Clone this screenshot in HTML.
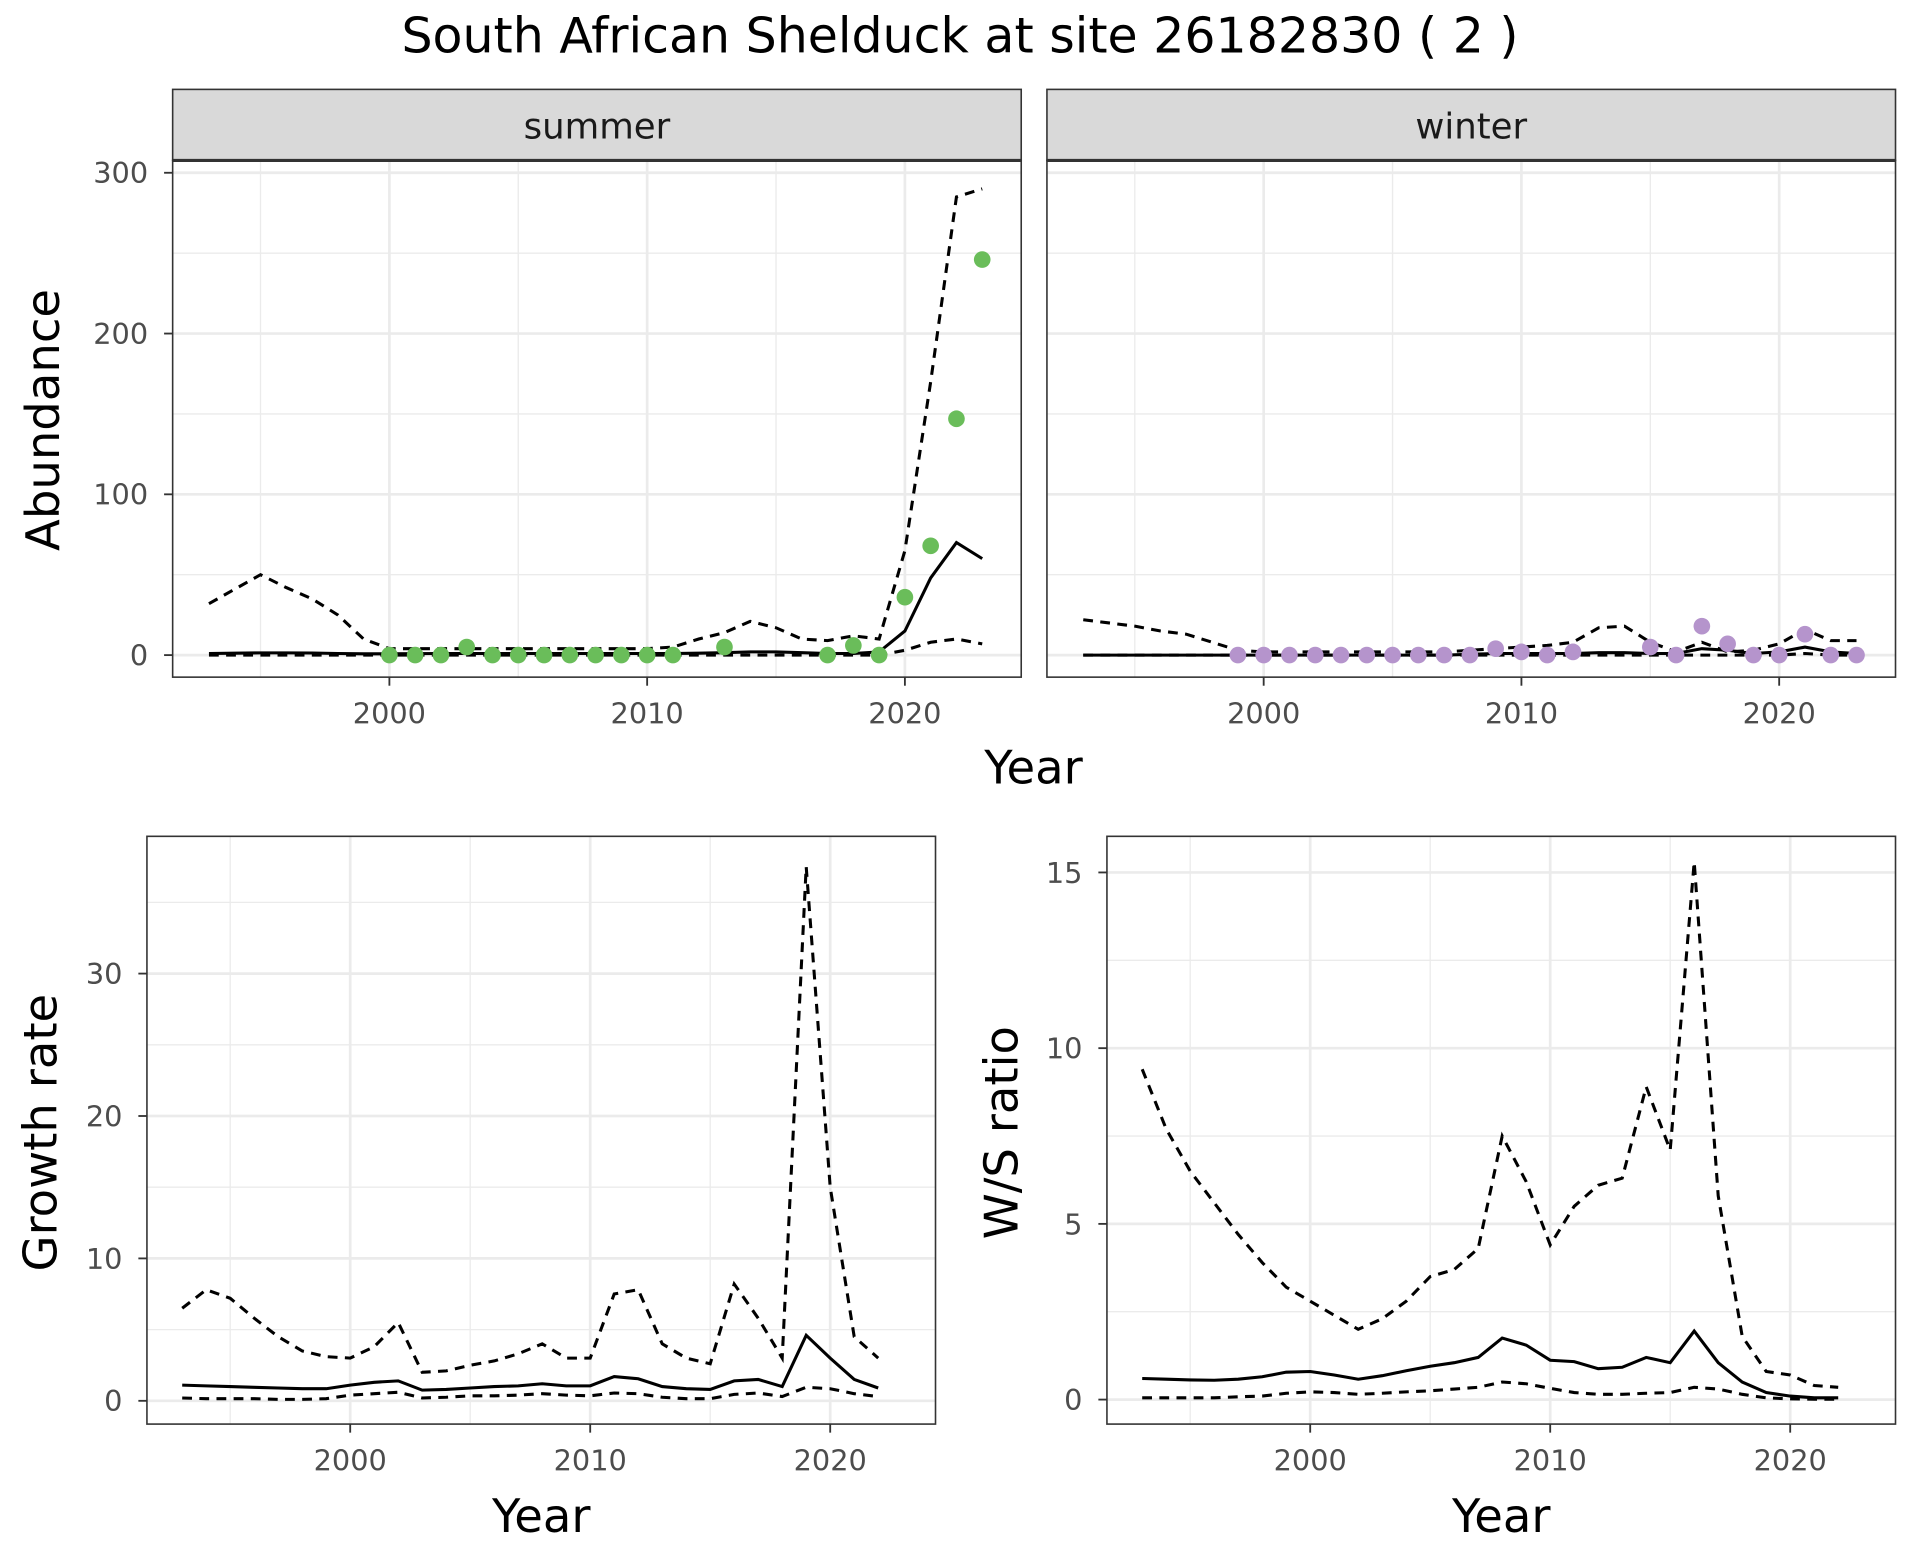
<!DOCTYPE html>
<html><head><meta charset="utf-8"><style>
html,body{margin:0;padding:0;background:#fff;}
svg{display:block;font-family:"DejaVu Sans","Liberation Sans",sans-serif;}
</style></head><body>
<svg id="chart" width="1920" height="1560" viewBox="0 0 1568 1274" xmlns="http://www.w3.org/2000/svg">
<rect width="1568" height="1274" fill="#fff"/>
<text x="784" y="43" font-size="40" text-anchor="middle" fill="#000">South African Shelduck at site 26182830 ( 2 )</text>
</svg>
<script>
const yearsA = [];for(let y=1993;y<=2023;y++)yearsA.push(y);
const yearsB = [];for(let y=1993;y<=2022;y++)yearsB.push(y);
const sumMean=[1,1.2,1.4,1.4,1.3,1,0.8,0.8,0.9,1,1,1,1,1,1,1,1,1,1,1.2,1.5,2,2,1.5,1,1,2,15,48,70,60];
const sumLow=[0,0,0,0,0,0,0,0,0,0,0,0,0,0,0,0,0,0,0,0,0,0,0,0,0,0,0,3,8,10,7];
const sumHigh=[32,41,50,42,35,25,10,4,4,4,4,4,4,4,4,4,4,4,5,10,14,21,17,10,9,12,10,65,170,285,290];
const sumPtYears=[2000,2001,2002,2003,2004,2005,2006,2007,2008,2009,2010,2011,2013,2017,2018,2019,2020,2021,2022,2023];
const sumPts=[0,0,0,5,0,0,0,0,0,0,0,0,5,0,6,0,36,68,147,246];
const winMean=[0,0,0,0,0,0,0,0,0,0,0,0,0,0,0,0.5,1,1,1,1,1.5,1.5,1,1,4,3,1,2,5,2,1];
const winLow=[0,0,0,0,0,0,0,0,0,0,0,0,0,0,0,0,0,0,0,0,0,0,0,0,0,0,0,0,1,0,0];
const winHigh=[22,20,18,15,13,8,3,2,2,2,2,2,2,2,2,3,4,5,6,8,17,18,8,2,8,2,3,7,16,9,9];
const winPtYears=[1999,2000,2001,2002,2003,2004,2005,2006,2007,2008,2009,2010,2011,2012,2015,2016,2017,2018,2019,2020,2021,2022,2023];
const winPts=[0,0,0,0,0,0,0,0,0,0,4,2,0,2,5,0,18,7,0,0,13,0,0];
const grHigh=[6.5,7.8,7.2,5.8,4.5,3.5,3.1,3.0,3.8,5.5,2.0,2.1,2.5,2.8,3.3,4.0,3.0,3.0,7.5,7.8,4.0,3.0,2.6,8.2,5.8,3.0,37.5,15,4.5,3.0];
const grMean=[1.1,1.05,1.0,0.95,0.9,0.85,0.85,1.1,1.3,1.4,0.75,0.8,0.9,1.0,1.05,1.2,1.05,1.05,1.7,1.55,1.0,0.85,0.8,1.4,1.5,1.0,4.6,3.0,1.5,0.9];
const grLow=[0.2,0.15,0.15,0.15,0.1,0.1,0.15,0.4,0.5,0.6,0.2,0.25,0.35,0.35,0.4,0.5,0.4,0.35,0.55,0.5,0.25,0.15,0.15,0.45,0.55,0.3,0.95,0.85,0.5,0.3];
const wsHigh=[9.4,7.7,6.5,5.6,4.7,3.9,3.2,2.8,2.4,2.0,2.3,2.8,3.5,3.7,4.3,7.5,6.2,4.4,5.5,6.1,6.3,8.9,7.1,15.3,5.8,1.8,0.8,0.7,0.4,0.35];
const wsMean=[0.6,0.58,0.56,0.55,0.58,0.65,0.78,0.8,0.7,0.58,0.68,0.82,0.95,1.05,1.2,1.75,1.55,1.12,1.08,0.88,0.92,1.2,1.05,1.95,1.05,0.5,0.2,0.1,0.05,0.05];
const wsLow=[0.05,0.05,0.05,0.05,0.08,0.1,0.18,0.22,0.2,0.15,0.18,0.22,0.25,0.3,0.35,0.5,0.45,0.32,0.2,0.15,0.15,0.18,0.2,0.35,0.3,0.15,0.05,0.02,0.01,0.01];
const xTicks=[2000,2010,2020];
const abTicks=[0,100,200,300];
const grTicks=[0,10,20,30];
const wsTicks=[0,5,10,15];

const svg=document.getElementById('chart');
const NS='http://www.w3.org/2000/svg';
function mk(tag,attrs,parent){const e=document.createElementNS(NS,tag);for(const k in attrs)e.setAttribute(k,attrs[k]);(parent||svg).appendChild(e);return e;}
const TF=23.5, AF=38;
function panel(p){
  const g=mk('g',{});
  
  
  const sx=v=>p.x0+(v-p.xa)*p.xk, sy=v=>p.y0-(v-0)*p.yk;
  mk('rect',{x:p.L,y:p.T,width:p.R-p.L,height:p.B-p.T,fill:'#fff'},g);
  p.minorY.forEach(v=>mk('line',{x1:p.L,x2:p.R,y1:sy(v),y2:sy(v),stroke:'#ebebeb','stroke-width':1.1},g));
  [1995,2005,2015].forEach(v=>mk('line',{x1:sx(v),x2:sx(v),y1:p.T,y2:p.B,stroke:'#ebebeb','stroke-width':1.1},g));
  p.yTicks.forEach(v=>mk('line',{x1:p.L,x2:p.R,y1:sy(v),y2:sy(v),stroke:'#ebebeb','stroke-width':2.2},g));
  xTicks.forEach(v=>mk('line',{x1:sx(v),x2:sx(v),y1:p.T,y2:p.B,stroke:'#ebebeb','stroke-width':2.2},g));
  const line=(ys,yrs,dash)=>mk('polyline',{points:ys.map((v,i)=>sx(yrs[i])+','+sy(v)).join(' '),fill:'none',stroke:'#000','stroke-width':2.5,'stroke-dasharray':dash||'none'},g);
  p.series.forEach(s=>{const l=line(s.v,s.yrs,s.dash);});
  if(p.pts){p.pts.v.forEach((v,i)=>{const c=mk('circle',{cx:sx(p.pts.yrs[i]),cy:sy(v),r:6.8,fill:p.pts.color},g);
    
    });}
  mk('rect',{x:p.L,y:p.T,width:p.R-p.L,height:p.B-p.T,fill:'none',stroke:'#333','stroke-width':1.3},g);
  if(p.showY){p.yTicks.forEach(v=>{mk('line',{x1:p.L-7,x2:p.L,y1:sy(v),y2:sy(v),stroke:'#333','stroke-width':1.5},g);
    const t=mk('text',{x:p.L-20,y:sy(v)+8.5,'font-size':TF,'text-anchor':'end',fill:'#4d4d4d'},g);t.textContent=v;});}
  xTicks.forEach(v=>{mk('line',{x1:sx(v),x2:sx(v),y1:p.B,y2:p.B+7,stroke:'#333','stroke-width':1.5},g);
    const t=mk('text',{x:sx(v),y:p.B+38,'font-size':TF,'text-anchor':'middle',fill:'#4d4d4d'},g);t.textContent=v;});
  if(p.strip){mk('rect',{x:p.L,y:73,width:p.R-p.L,height:p.T-73,fill:'#d9d9d9',stroke:'#333','stroke-width':1.3},g);
    mk('line',{x1:p.L,x2:p.R,y1:p.T,y2:p.T,stroke:'#333','stroke-width':2.5},g);
    const t=mk('text',{x:(p.L+p.R)/2,y:113,'font-size':29,'text-anchor':'middle',fill:'#1a1a1a'},g);t.textContent=p.strip;}
  if(p.xlab){const t=mk('text',{x:p.xlab[0],y:p.xlab[1],'font-size':AF,'text-anchor':'middle',fill:'#000'},g);t.textContent='Year';
    }
  if(p.ylab){const t=mk('text',{x:0,y:0,'font-size':AF,'text-anchor':'middle',fill:'#000',transform:`translate(${p.ylab[0]},${p.ylab[1]}) rotate(-90)`},g);t.textContent=p.ylab[2];
    }
}
panel({name:'summer-panel',L:141,R:834,T:131,B:553,x0:318,xa:2000,xk:21.05,y0:535,yk:1.313,yTicks:abTicks,minorY:[50,150,250],showY:true,strip:'summer',ylab:[48,343,'Abundance'],
  series:[{name:'summer-mean',v:sumMean,yrs:yearsA},{name:'summer-lower',v:sumLow,yrs:yearsA,dash:'8,6'},{name:'summer-upper',v:sumHigh,yrs:yearsA,dash:'8,6'}],
  pts:{v:sumPts,yrs:sumPtYears,color:'#6abd5a'}});
panel({name:'winter-panel',L:855,R:1548,T:131,B:553,x0:1032,xa:2000,xk:21.05,y0:535,yk:1.313,yTicks:abTicks,minorY:[50,150,250],showY:false,strip:'winter',
  series:[{name:'winter-mean',v:winMean,yrs:yearsA},{name:'winter-lower',v:winLow,yrs:yearsA,dash:'8,6'},{name:'winter-upper',v:winHigh,yrs:yearsA,dash:'8,6'}],
  pts:{v:winPts,yrs:winPtYears,color:'#b594cc'}});
const yt=mk('text',{x:844,y:640,'font-size':AF,'text-anchor':'middle',fill:'#000'});yt.textContent='Year';


panel({name:'growth-rate-panel',L:120,R:764,T:683,B:1163,x0:286,xa:2000,xk:19.6,y0:1144,yk:11.63,yTicks:grTicks,minorY:[5,15,25,35],showY:true,xlab:[442,1251],ylab:[46,925,'Growth rate'],
  series:[{name:'growth-mean',v:grMean,yrs:yearsB},{name:'growth-lower',v:grLow,yrs:yearsB,dash:'8,6'},{name:'growth-upper',v:grHigh,yrs:yearsB,dash:'8,6'}]});
panel({name:'ws-ratio-panel',L:904,R:1548,T:683,B:1163,x0:1070,xa:2000,xk:19.6,y0:1143,yk:28.7,yTicks:wsTicks,minorY:[2.5,7.5,12.5],showY:true,xlab:[1226,1251],ylab:[831,925,'W/S ratio'],
  series:[{name:'ws-mean',v:wsMean,yrs:yearsB},{name:'ws-lower',v:wsLow,yrs:yearsB,dash:'8,6'},{name:'ws-upper',v:wsHigh,yrs:yearsB,dash:'8,6'}]});
</script>
</body></html>
